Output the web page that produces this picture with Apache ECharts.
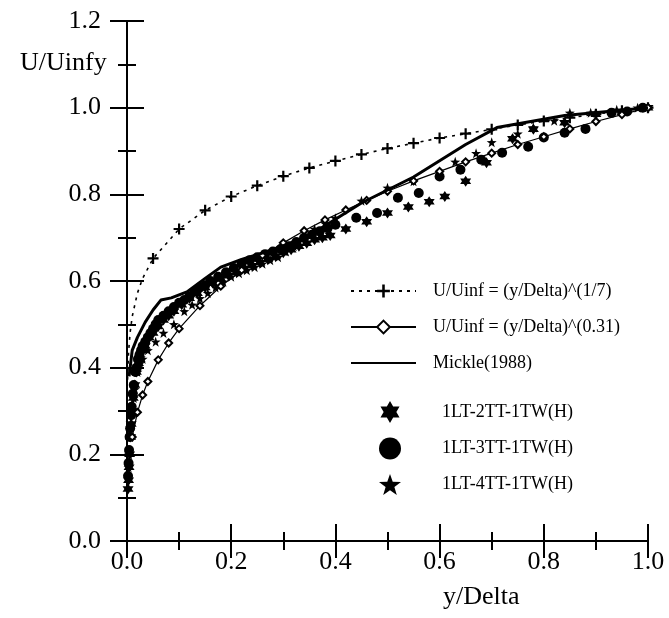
<!DOCTYPE html>
<html>
<head>
<meta charset="utf-8">
<script src="https://cdn.jsdelivr.net/npm/echarts@6/dist/echarts.min.js"></script>
<style>html,body{margin:0;padding:0;background:#fff}#c{width:669px;height:618px}</style>
</head>
<body>
<div id="c"></div>
<script>
// ---- data ----
const xTicks = ['0.0','0.2','0.4','0.6','0.8','1.0'];
const yTicks = ['0.0','0.2','0.4','0.6','0.8','1.0','1.2'];

// U/Uinf = (y/Delta)^(1/7)
const p17X = [0.001,0.003,0.006,0.01,0.02,0.03,0.05,0.1,0.15,0.2,0.25,0.3,0.35,0.4,0.45,0.5,0.55,0.6,0.65,0.7,0.75,0.8,0.85,0.9,0.95,1.0];
const p17Y = [0.372,0.436,0.481,0.518,0.572,0.606,0.652,0.72,0.763,0.795,0.82,0.842,0.861,0.877,0.892,0.906,0.918,0.93,0.94,0.95,0.96,0.969,0.977,0.985,0.993,1.0];

// U/Uinf = (y/Delta)^(0.31)
const p31X = [0.01,0.02,0.03,0.04,0.06,0.08,0.1,0.14,0.18,0.22,0.26,0.3,0.34,0.38,0.42,0.46,0.5,0.55,0.6,0.65,0.7,0.75,0.8,0.85,0.9,0.95,1.0];
const p31Y = [0.24,0.297,0.337,0.368,0.418,0.457,0.49,0.543,0.588,0.625,0.659,0.688,0.716,0.741,0.764,0.786,0.807,0.831,0.853,0.875,0.895,0.915,0.933,0.951,0.968,0.984,1.0];

// Mickle (1988)
const mickX = [0.004,0.01,0.02,0.035,0.05,0.065,0.085,0.115,0.15,0.18,0.22,0.28,0.35,0.45,0.55,0.65,0.71,0.84,1.0];
const mickY = [0.38,0.44,0.47,0.505,0.533,0.556,0.561,0.575,0.606,0.632,0.65,0.672,0.705,0.78,0.84,0.915,0.954,0.982,1.0];

// 1LT-2TT-1TW(H)
const s2X = [0.002,0.003,0.004,0.005,0.007,0.008,0.01,0.012,0.015,0.018,0.022,0.025,0.03,0.035,0.042,0.05,0.06,0.07,0.08,0.09,0.105,0.12,0.135,0.15,0.165,0.18,0.195,0.21,0.225,0.24,0.255,0.27,0.285,0.3,0.315,0.33,0.345,0.36,0.375,0.39,0.42,0.46,0.5,0.54,0.58,0.61,0.65,0.69,0.74,0.78,0.84,0.9,0.95,1.0];
const s2Y = [0.12,0.14,0.17,0.2,0.24,0.27,0.3,0.33,0.36,0.39,0.41,0.42,0.44,0.45,0.47,0.48,0.495,0.51,0.52,0.53,0.545,0.56,0.572,0.585,0.595,0.605,0.612,0.62,0.628,0.635,0.642,0.65,0.657,0.665,0.672,0.68,0.687,0.695,0.7,0.705,0.72,0.737,0.757,0.771,0.783,0.795,0.83,0.873,0.928,0.95,0.965,0.985,0.99,1.0];

// 1LT-3TT-1TW(H)
const s3X = [0.002,0.003,0.004,0.005,0.006,0.008,0.009,0.011,0.013,0.016,0.018,0.021,0.024,0.027,0.03,0.035,0.04,0.045,0.05,0.055,0.06,0.07,0.08,0.09,0.1,0.11,0.12,0.13,0.14,0.15,0.16,0.175,0.19,0.205,0.22,0.235,0.25,0.265,0.28,0.295,0.31,0.325,0.34,0.355,0.37,0.385,0.4,0.44,0.48,0.52,0.56,0.6,0.64,0.68,0.72,0.77,0.8,0.84,0.88,0.93,0.96,0.99];
const s3Y = [0.15,0.18,0.21,0.24,0.26,0.29,0.31,0.34,0.36,0.39,0.4,0.42,0.43,0.44,0.45,0.46,0.47,0.48,0.49,0.5,0.51,0.52,0.53,0.54,0.55,0.556,0.565,0.575,0.585,0.59,0.6,0.61,0.62,0.63,0.64,0.648,0.655,0.662,0.668,0.674,0.68,0.69,0.7,0.707,0.715,0.722,0.73,0.746,0.757,0.792,0.803,0.841,0.857,0.88,0.896,0.91,0.931,0.942,0.951,0.988,0.991,1.0];

// 1LT-4TT-1TW(H)
const s4X = [0.003,0.004,0.006,0.008,0.01,0.013,0.015,0.02,0.025,0.03,0.04,0.055,0.07,0.09,0.11,0.125,0.14,0.155,0.17,0.185,0.2,0.215,0.23,0.245,0.26,0.275,0.29,0.305,0.32,0.34,0.36,0.38,0.4,0.45,0.5,0.55,0.6,0.63,0.67,0.7,0.75,0.78,0.82,0.85,0.89,0.94,0.98];
const s4Y = [0.17,0.2,0.24,0.27,0.3,0.33,0.35,0.39,0.41,0.42,0.44,0.46,0.48,0.5,0.53,0.545,0.56,0.572,0.585,0.598,0.61,0.618,0.625,0.632,0.64,0.648,0.655,0.668,0.68,0.7,0.72,0.733,0.745,0.785,0.815,0.83,0.85,0.875,0.895,0.92,0.94,0.954,0.97,0.988,0.988,0.995,1.0];

const names = ['U/Uinf = (y/Delta)^(1/7)','U/Uinf = (y/Delta)^(0.31)','Mickle(1988)','1LT-2TT-1TW(H)','1LT-3TT-1TW(H)','1LT-4TT-1TW(H)'];

// ---- build ----
const zip = (xs, ys) => xs.map((x, i) => [x, ys[i]]);
const FONT = 'Liberation Serif';
const PLUS = 'path://M4,0H6V4H10V6H6V10H4V6H0V4H4Z';
const HEX = 'path://M5,0L6.44,2.5H9.33L7.89,5L9.33,7.5H6.44L5,10L3.56,7.5H0.67L2.11,5L0.67,2.5H3.56Z';
const STAR = 'path://M5,0L6.18,3.38L9.76,3.45L6.9,5.62L7.94,9.05L5,7L2.06,9.05L3.1,5.62L0.24,3.45L3.82,3.38Z';

function axisCommon(showLabel) {
  return {
    type: 'value', min: 0,
    axisLine: { show: true, lineStyle: { color: '#000', width: 2 } },
    axisTick: { show: true, inside: true, length: 17, lineStyle: { color: '#000', width: 2 } },
    minorTick: { show: true, splitNumber: 2, length: 9, lineStyle: { color: '#000', width: 2 } },
    splitLine: { show: false },
    axisLabel: { show: showLabel, color: '#000', fontFamily: FONT, fontSize: 26 },
  };
}

const xB = axisCommon(true); xB.max = 1; xB.interval = 0.2; xB.position = 'bottom';
xB.axisLabel.margin = 8; xB.axisLabel.formatter = v => xTicks[Math.round(v / 0.2)];
const xT = axisCommon(false); xT.max = 1; xT.interval = 0.2; xT.position = 'top';
const yL = axisCommon(true); yL.max = 1.2; yL.interval = 0.2; yL.position = 'left';
yL.axisLabel.margin = 26; yL.axisLabel.formatter = v => yTicks[Math.round(v / 0.2)];
const yR = axisCommon(false); yR.max = 1.2; yR.interval = 0.2; yR.position = 'right';

const p17Data = zip(p17X, p17Y).map(d => d[0] >= 0.05 ? d : { value: d, symbol: 'none' });

const option = {
  animation: false,
  backgroundColor: '#fff',
  grid: { left: 127, right: 21, top: 21, bottom: 77 },
  xAxis: [xB, xT],
  yAxis: [yL, yR],
  legend: [
    {
      data: [names[0], names[1], { name: names[2], itemStyle: { opacity: 0 } }],
      orient: 'vertical', left: 345, top: 277,
      itemWidth: 65, itemHeight: 16, itemGap: 18,
      textStyle: { fontFamily: FONT, fontSize: 18, color: '#000', padding: [0, 0, 0, 12] },
      selectedMode: false
    },
    {
      data: names.slice(3), orient: 'vertical', left: 374, top: 396,
      itemWidth: 22, itemHeight: 22, itemGap: 14.5,
      textStyle: { fontFamily: FONT, fontSize: 18, color: '#000', padding: [0, 0, 0, 36] },
      selectedMode: false
    }
  ],
  graphic: [
    { type: 'text', left: 20, top: 50, style: { text: 'U/Uinfy', font: '26px "Liberation Serif"', fill: '#000' } },
    { type: 'text', left: 443, top: 584, style: { text: 'y/Delta', font: '26px "Liberation Serif"', fill: '#000' } }
  ],
  series: [
    {
      name: names[0], type: 'line', data: p17Data, symbol: PLUS, symbolSize: 11,
      itemStyle: { color: '#000' },
      lineStyle: { color: '#000', width: 1.6, type: [3, 5] }, z: 3
    },
    {
      name: names[1], type: 'line', data: zip(p31X, p31Y), symbol: 'emptyDiamond', symbolSize: 7,
      itemStyle: { color: '#000', borderColor: '#000', borderWidth: 1.5 },
      lineStyle: { color: '#000', width: 1.2 }, z: 3
    },
    {
      name: names[2], type: 'line', data: zip(mickX, mickY), showSymbol: false, symbol: 'none',
      itemStyle: { color: '#000' },
      lineStyle: { color: '#000', width: 3 }, z: 4
    },
    { name: names[3], type: 'scatter', data: zip(s2X, s2Y), symbol: HEX, symbolSize: 11, itemStyle: { color: '#000', opacity: 1 } },
    { name: names[4], type: 'scatter', data: zip(s3X, s3Y), symbol: 'circle', symbolSize: 10, itemStyle: { color: '#000', opacity: 1 } },
    { name: names[5], type: 'scatter', data: zip(s4X, s4Y), symbol: STAR, symbolSize: 10, itemStyle: { color: '#000', opacity: 1 } }
  ]
};

echarts.init(document.getElementById('c'), null, { renderer: 'canvas' }).setOption(option);
</script>
</body>
</html>
